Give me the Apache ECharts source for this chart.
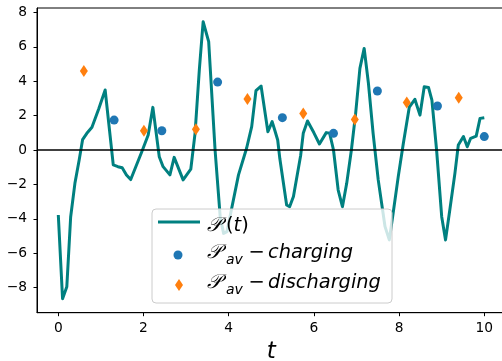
<!DOCTYPE html>
<html>
<head>
<meta charset="utf-8">
<script src="https://cdn.jsdelivr.net/npm/echarts@6/dist/echarts.min.js"></script>
<style>html,body{margin:0;padding:0;background:#fff;}#c{width:502px;height:361px;}</style>
</head>
<body>
<div id="c"></div>
<script>
// ---- data ----
const tCurve = [0.00,0.10,0.20,0.29,0.39,0.49,0.57,0.67,0.79,0.95,1.10,1.29,1.40,1.50,1.60,1.70,1.96,2.11,2.22,2.37,2.46,2.62,2.72,2.93,3.11,3.21,3.31,3.40,3.53,3.68,3.80,3.88,3.96,4.03,4.23,4.42,4.54,4.64,4.76,4.92,5.02,5.08,5.15,5.20,5.36,5.43,5.52,5.69,5.75,5.85,6.00,6.13,6.29,6.37,6.46,6.57,6.67,6.77,6.88,6.98,7.08,7.18,7.28,7.39,7.51,7.67,7.77,7.86,7.98,8.10,8.24,8.37,8.49,8.59,8.69,8.77,8.88,9.00,9.09,9.19,9.31,9.39,9.51,9.60,9.68,9.81,9.90,10.00];
const pCurve = [-3.78,-8.65,-7.95,-3.9,-1.94,-0.58,0.6,0.97,1.32,2.4,3.49,-0.87,-0.97,-1.03,-1.45,-1.72,-0.1,0.87,2.48,-0.39,-0.97,-1.45,-0.43,-1.74,-1.12,0.97,4.65,7.46,6.3,0.0,-3.88,-4.85,-4.75,-3.88,-1.45,0.1,1.36,3.45,3.72,1.06,1.65,1.16,0.58,-0.5,-3.2,-3.3,-2.71,-0.3,0.97,1.69,1.0,0.35,1.01,0.97,0.0,-2.33,-3.3,-1.94,0.0,2.13,4.75,5.91,3.88,0.97,-1.74,-4.46,-5.23,-3.68,-1.55,0.39,2.5,2.95,2.03,3.68,3.64,2.9,0.0,-3.88,-5.23,-3.49,-1.36,0.29,0.78,0.19,0.68,0.81,1.84,1.88];
const tCharge = [1.31,2.43,3.74,5.26,6.46,7.49,8.90,10.0];
const pCharge = [1.74,1.12,3.95,1.88,0.97,3.43,2.56,0.78];
const tDischarge = [0.60,2.01,3.23,4.44,5.75,6.96,8.18,9.40];
const pDischarge = [4.59,1.12,1.20,2.97,2.13,1.78,2.77,3.04];
const xTicks = [0,2,4,6,8,10];
const yTicks = [-8,-6,-4,-2,0,2,4,6,8];
const names = ['curve','charging','discharging'];

const zip = (a,b) => a.map((v,i)=>[v,b[i]]);
const minus = v => String(v).replace('-', '\u2212');

function makeRich(gapW, padTop) {
  const base = {color:'#000', verticalAlign:'top', lineHeight:24, padding:[padTop,0,0,0]};
  return {
    g: Object.assign({}, base, {width:gapW, fontSize:10}),
    P: Object.assign({}, base, {fontFamily:'DejaVu Serif', fontStyle:'italic', fontSize:20, width:19}),
    par: Object.assign({}, base, {fontFamily:'DejaVu Sans', fontSize:19.4}),
    it: Object.assign({}, base, {fontFamily:'DejaVu Sans', fontStyle:'italic', fontSize:19.4}),
    sub: Object.assign({}, base, {fontFamily:'DejaVu Sans', fontStyle:'italic', fontSize:14, lineHeight:16, width:19, padding:[padTop+10,0,0,0]}),
    op: Object.assign({}, base, {fontFamily:'DejaVu Sans', fontSize:19.4, width:23, align:'center'})
  };
}
const labelFor = {
  curve: '{g| }{P|\uD835\uDCAB}{par|(}{it|t}{par|)}',
  charging: '{g| }{P|\uD835\uDCAB}{sub|av}{op|\u2212}{it|charging}',
  discharging: '{g| }{P|\uD835\uDCAB}{sub|av}{op|\u2212}{it|discharging}'
};
function legendRow(extra, rich) {
  return Object.assign({
    orient:'vertical', padding:0, itemGap:0, selectedMode:false, z:11,
    symbolKeepAspect:true,
    textStyle:{rich:rich, color:'#000'},
    formatter: n => labelFor[n]
  }, extra);
}

const chart = echarts.init(document.getElementById('c'), null, {renderer:'canvas'});
chart.setOption({
  animation:false,
  backgroundColor:'#fff',
  grid:{left:37, top:8, width:468.6, height:304.7, show:true, borderColor:'#000', borderWidth:1,
        backgroundColor:'transparent', containLabel:false, outerBoundsMode:'none'},
  xAxis:{
    type:'value', min:-0.5, max:10.5,
    axisLine:{show:true, onZero:false, lineStyle:{color:'#000', width:1}},
    axisTick:{show:true, length:3.5, lineStyle:{color:'#000', width:1}, customValues:xTicks},
    axisLabel:{customValues:xTicks, margin:9, color:'#000', fontFamily:'DejaVu Sans', fontSize:13.8, formatter:minus},
    splitLine:{show:false},
    name:'t', nameLocation:'middle', nameGap:27,
    nameTextStyle:{fontFamily:'DejaVu Sans', fontStyle:'italic', fontSize:23, color:'#000'}
  },
  yAxis:{
    type:'value', min:-9.465, max:8.26,
    axisLine:{show:true, onZero:false, lineStyle:{color:'#000', width:1}},
    axisTick:{show:true, length:3.5, lineStyle:{color:'#000', width:1}, customValues:yTicks},
    axisLabel:{customValues:yTicks, margin:10, color:'#000', fontFamily:'DejaVu Sans', fontSize:13.8, formatter:minus},
    splitLine:{show:false}
  },
  graphic:[{
    type:'rect', z:10, silent:true,
    shape:{x:152, y:209, width:240, height:94, r:4},
    style:{fill:'rgba(255,255,255,0.8)', stroke:'#cccccc', lineWidth:1}
  }],
  legend:[
    legendRow({left:158, top:210, itemWidth:42, itemHeight:3, data:[{name:names[0], icon:'rect'}]}, makeRich(2, 6)),
    legendRow({left:173.5, top:243, itemWidth:9, itemHeight:9, data:[{name:names[1], icon:'circle'}]}, makeRich(19.5, 0)),
    legendRow({left:175, top:273, itemWidth:8, itemHeight:12, data:[{name:names[2], icon:'path://M4,0L8,6L4,12L0,6Z'}]}, makeRich(19, 0))
  ],
  series:[
    {
      name:names[0], type:'line', data:zip(tCurve,pCurve), symbol:'none', z:2,
      lineStyle:{color:'#008080', width:3, join:'round'}, itemStyle:{color:'#008080'},
      markLine:{silent:true, symbol:'none', label:{show:false}, lineStyle:{color:'#000', width:1.6, type:'solid'}, data:[{yAxis:0}]}
    },
    {
      name:names[1], type:'scatter', data:zip(tCharge,pCharge), symbol:'circle', symbolSize:9, z:6,
      itemStyle:{color:'#1f77b4', opacity:1}
    },
    {
      name:names[2], type:'scatter', data:zip(tDischarge,pDischarge), symbol:'path://M4,0L8,6L4,12L0,6Z', symbolSize:[8,12], z:6,
      itemStyle:{color:'#ff7f0e', opacity:1}
    }
  ]
});
</script>
</body>
</html>
